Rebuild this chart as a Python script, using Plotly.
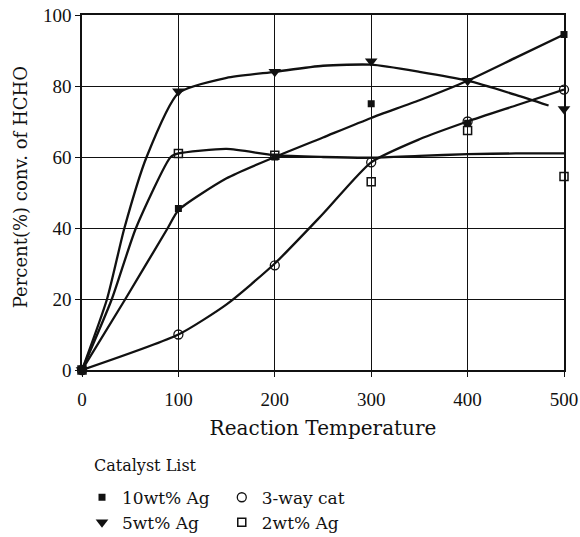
import plotly.graph_objects as go

# ---- data ----
temps = [0, 100, 200, 300, 400, 500]

ag10_pts = [0, 45.5, 60, 75, 69.5, 94.5]
ag5_pts = [0, 78.5, 84, 87, 81.5, 73.5]
way3_pts = [0, 10, 29.5, 58.5, 70, 79]
ag2_pts = [0, 61, 60.5, 53, 67.5, 54.5]

# smoothed curves as drawn in the reference
ag10_cx = [0, 45, 89, 100, 150, 200, 250, 300, 350, 400, 450, 500]
ag10_cy = [0, 20, 40, 45, 54, 60, 65.5, 71, 76, 81.5, 88, 94.5]

ag5_cx = [0, 26, 44, 67, 100, 150, 200, 250, 300, 350, 400, 450, 484]
ag5_cy = [0, 20, 40, 60, 78, 82.3, 84, 85.7, 86, 84, 81.5, 77.5, 74.5]

way3_cx = [0, 100, 150, 200, 250, 300, 350, 400, 450, 500]
way3_cy = [0, 10, 18.5, 30, 44, 58.5, 65, 70, 74.5, 79]

ag2_cx = [0, 31, 56, 92, 100, 150, 200, 250, 300, 350, 400, 450, 500]
ag2_cy = [0, 20, 40, 60, 61, 62.3, 60.5, 60, 59.8, 60.3, 60.8, 61, 61]

x_ticks = [0, 100, 200, 300, 400, 500]
y_ticks = [0, 20, 40, 60, 80, 100]

FONT = "DejaVu Serif, Liberation Serif, serif"
TICKFONT = "Liberation Serif, DejaVu Serif, serif"
INK = "#111111"

fig = go.Figure()

curves = [
    (ag10_cx, ag10_cy),
    (ag5_cx, ag5_cy),
    (way3_cx, way3_cy),
    (ag2_cx, ag2_cy),
]
for cx, cy in curves:
    fig.add_trace(go.Scatter(
        x=cx, y=cy, mode="lines",
        line=dict(color=INK, width=2.3, shape="spline", smoothing=0.6),
        showlegend=False, hoverinfo="skip", cliponaxis=False,
    ))

series = [
    ("10wt% Ag", ag10_pts, dict(symbol="square", size=7, color=INK), "legend"),
    ("5wt% Ag", ag5_pts, dict(symbol="triangle-down", size=11, color=INK), "legend"),
    ("3-way cat", way3_pts, dict(symbol="circle-open", size=9, color=INK,
                                 line=dict(width=1.3, color=INK)), "legend2"),
    ("2wt% Ag", ag2_pts, dict(symbol="square-open", size=8, color=INK,
                              line=dict(width=1.5, color=INK)), "legend2"),
]
for name, ys, mk, lg in series:
    fig.add_trace(go.Scatter(
        x=temps, y=ys, mode="markers", name=name, marker=mk,
        legend=lg, cliponaxis=False,
    ))

axis_common = dict(
    showline=True, linecolor=INK, linewidth=1.6, mirror=True,
    showgrid=True, gridcolor=INK, gridwidth=1.2,
    ticks="outside", ticklen=5, tickcolor=INK, tickwidth=1.2,
    zeroline=False, automargin=False, ticklabeloverflow="allow",
    tickfont=dict(family=TICKFONT, size=19, color=INK),
)

fig.update_xaxes(
    range=[0, 500], tickvals=x_ticks, ticktext=[str(v) for v in x_ticks],
    ticklabelstandoff=6,
    title=dict(text="Reaction Temperature", font=dict(family=FONT, size=20, color=INK), standoff=12),
    **axis_common,
)
fig.update_yaxes(
    range=[0, 100], tickvals=y_ticks, ticktext=[str(v) for v in y_ticks],
    **axis_common,
)

legend_font = dict(family=FONT, size=17, color=INK)
fig.update_layout(
    width=580, height=537,
    margin=dict(l=82, r=16, t=15, b=167, autoexpand=False),
    paper_bgcolor="white", plot_bgcolor="white",
    font=dict(family=FONT, color=INK),
    legend=dict(
        x=0.0, y=-0.309, xanchor="left", yanchor="top",
        orientation="v", font=legend_font,
        bgcolor="rgba(0,0,0,0)", tracegroupgap=0,
    ),
    legend2=dict(
        x=0.29, y=-0.309, xanchor="left", yanchor="top",
        orientation="v", font=legend_font,
        bgcolor="rgba(0,0,0,0)", tracegroupgap=0,
    ),
    annotations=[
        dict(
            text="Catalyst List", xref="paper", yref="paper",
            x=0.02, y=-0.268, xanchor="left", yanchor="middle",
            showarrow=False, font=dict(family=FONT, size=16, color=INK),
        ),
        dict(
            text="Percent(%) conv. of HCHO", xref="paper", yref="paper",
            x=-0.1286, y=0.515, xanchor="center", yanchor="middle",
            textangle=-90, showarrow=False,
            font=dict(family=FONT, size=18, color=INK),
        ),
    ],
)

fig.write_html(
    "out.html",
    config={"displayModeBar": False},
    post_script="document.body.style.margin='0';document.body.style.overflow='hidden';",
)
